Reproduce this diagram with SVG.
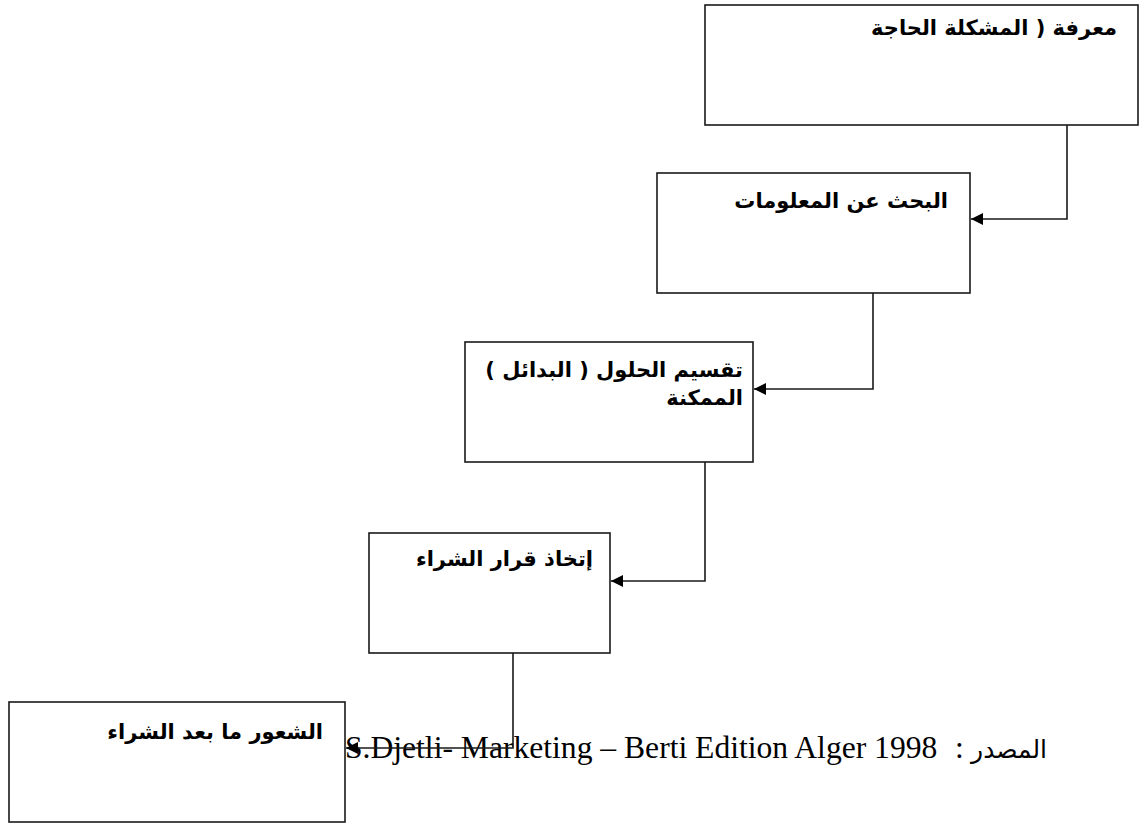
<svg xmlns="http://www.w3.org/2000/svg" width="1143" height="823" viewBox="0 0 1143 823">
  <style>
    .box { fill: #ffffff; stroke: #1a1a1a; stroke-width: 1.6; }
    .lbl { font-family: "DejaVu Sans", "Noto Sans", sans-serif; font-weight: bold; font-size: 21px; fill: #000000; }
    .link { fill: none; stroke: #1a1a1a; stroke-width: 1.6; }
    .src { font-family: "Liberation Serif", "DejaVu Serif", serif; font-size: 31.6px; fill: #000000; }
    .src-ar { font-family: "DejaVu Sans", "Noto Sans", sans-serif; font-size: 25px; fill: #000000; }
  </style>
  <defs>
    <marker id="arrow" markerUnits="userSpaceOnUse" markerWidth="14" markerHeight="12" refX="12" refY="6" orient="auto">
      <path d="M0,0 L12,6 L0,12 Z" fill="#000000"/>
    </marker>
  </defs>
  <rect width="1143" height="823" fill="#ffffff"/>

  <!-- source line -->
  <g id="source">
    <text class="src" x="345" y="758">S.Djetli- Marketing – Berti Edition Alger 1998</text>
    <text class="src" x="955" y="758">:</text>
    <text class="src-ar" x="1047" y="758" text-anchor="end">المصدر</text>
  </g>

  <g id="step1">
    <rect class="box" x="705" y="5" width="433" height="120"/>
    <text class="lbl" x="1117" y="35" direction="rtl" text-anchor="start">معرفة ( المشكلة الحاجة</text>
  </g>
  <g id="step2">
    <rect class="box" x="657" y="173" width="313" height="120"/>
    <text class="lbl" x="948" y="208" direction="rtl" text-anchor="start">البحث عن المعلومات</text>
  </g>
  <g id="step3">
    <rect class="box" x="465" y="342" width="288" height="120"/>
    <text class="lbl" x="743" y="377" direction="rtl" text-anchor="start">تقسيم الحلول ( البدائل )</text>
    <text class="lbl" x="743" y="405" direction="rtl" text-anchor="start">الممكنة</text>
  </g>
  <g id="step4">
    <rect class="box" x="369" y="533" width="241" height="120"/>
    <text class="lbl" x="593" y="566" direction="rtl" text-anchor="start">إتخاذ قرار الشراء</text>
  </g>
  <g id="step5">
    <rect class="box" x="9" y="702" width="336" height="120"/>
    <text class="lbl" x="323" y="739" direction="rtl" text-anchor="start">الشعور ما بعد الشراء</text>
  </g>

  <g id="connectors">
    <path class="link" d="M1067,125 V219 H971" marker-end="url(#arrow)"/>
    <path class="link" d="M873,293 V389 H754" marker-end="url(#arrow)"/>
    <path class="link" d="M705,462 V581 H611" marker-end="url(#arrow)"/>
    <path class="link" d="M513,653 V748 H346" marker-end="url(#arrow)"/>
  </g>
</svg>
